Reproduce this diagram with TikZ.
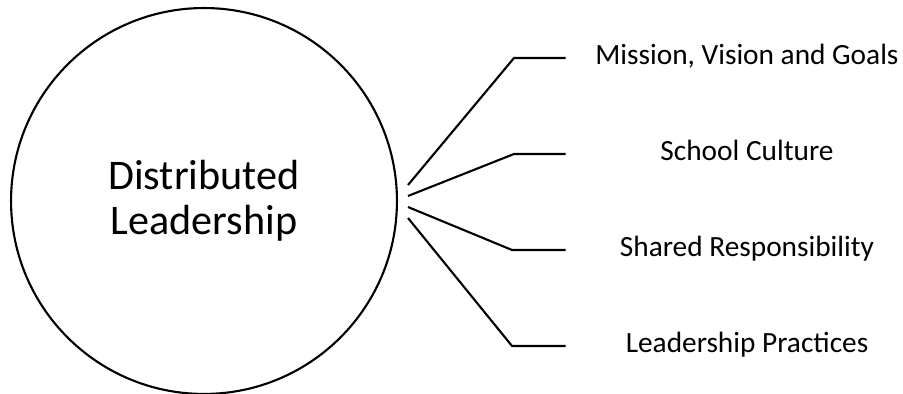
\documentclass[tikz,border=0pt]{standalone}
\usepackage{fontspec}
\setmainfont{Carlito}
\usetikzlibrary{positioning}
\tikzstyle{hub}= [circle, draw, line width=1.2pt, inner sep=0pt, minimum size=7.72cm, align=center, font=\fontsize{24}{25.5}\selectfont]
\tikzstyle{lbl}= [inner sep=0pt, minimum width=7.24cm, text height=1.6ex, text depth=0pt, align=center, font=\fontsize{16.7}{20}\selectfont]
\tikzstyle{arm}= [line width=1.2pt]

\begin{document}
\begin{tikzpicture}[x=0.02cm, y=-0.02cm]
				\useasboundingbox (0,0) rectangle (903,394);
				\node[hub] (dl) at (204, 201) {Distributed\\Leadership};
				\node[lbl] (goals) at (747, 58) {Mission, Vision and Goals};
				\node[lbl] (culture) at (747, 154) {School Culture};
				\node[lbl] (shared) at (747, 250) {Shared Responsibility};
				\node[lbl] (practice) at (747, 346) {Leadership Practices};
				\coordinate (s1) at (408, 185);
				\coordinate (s2) at (408, 196);
				\coordinate (s3) at (408, 207);
				\coordinate (s4) at (408, 218);
				\coordinate (k1) at (514, 58);
				\coordinate (k2) at (514, 154);
				\coordinate (k3) at (512, 250);
				\coordinate (k4) at (512, 346);
				\draw[arm] (s1) -- (k1) -- (goals.west);
				\draw[arm] (s2) -- (k2) -- (culture.west);
				\draw[arm] (s3) -- (k3) -- (shared.west);
				\draw[arm] (s4) -- (k4) -- (practice.west);
\end{tikzpicture}
\end{document}
